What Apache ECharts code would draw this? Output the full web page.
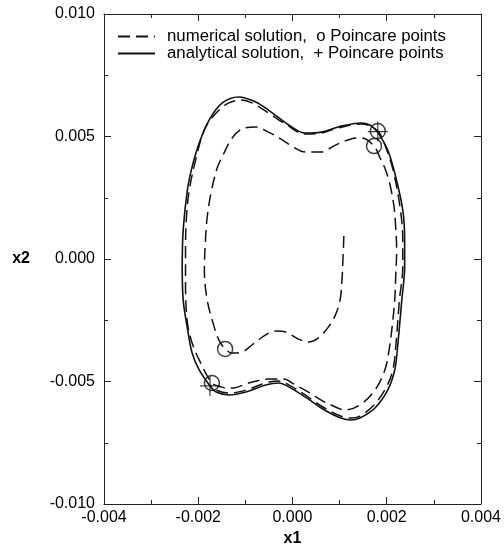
<!DOCTYPE html>
<html>
<head>
<meta charset="utf-8">
<script src="https://cdn.jsdelivr.net/npm/echarts@6/dist/echarts.min.js"></script>
<style>
  html, body { margin: 0; padding: 0; background: #fff; }
  #chart { width: 504px; height: 553px; }
</style>
</head>
<body>
<div id="chart"></div>
<script>
// numerical solution (dashed), spiralling outward from the inner start point
const numerical = [
  [0.00109, 0.00094], [0.00107, -0.00004], [0.00105, -0.00086], [0.00101, -0.00167],
  [0.00091, -0.00229], [0.00076, -0.00278], [0.00055, -0.00322], [0.00034, -0.00339],
  [0.00013, -0.00327], [-0.00015, -0.00298], [-0.00036, -0.00294], [-0.00057, -0.00310],
  [-0.00086, -0.00351], [-0.00107, -0.00380], [-0.00128, -0.00384], [-0.00143, -0.00367],
  [-0.00156, -0.00331], [-0.00166, -0.00278], [-0.00181, -0.00167], [-0.00187, -0.00045],
  [-0.00185, 0.00065], [-0.00181, 0.00171], [-0.00173, 0.00269], [-0.00160, 0.00370],
  [-0.00146, 0.00430], [-0.00128, 0.00494], [-0.00107, 0.00531], [-0.00078, 0.00539],
  [-0.00051, 0.00518], [-0.00025, 0.00490], [0.00002, 0.00457], [0.00027, 0.00437],
  [0.00061, 0.00437], [0.00091, 0.00465], [0.00124, 0.00490], [0.00147, 0.00494],
  [0.00173, 0.00461], [0.00185, 0.00416], [0.00196, 0.00371], [0.00206, 0.00310],
  [0.00215, 0.00220], [0.00219, 0.00131], [0.00221, 0.00037], [0.00219, -0.00073],
  [0.00217, -0.00167], [0.00213, -0.00249], [0.00206, -0.00359], [0.00196, -0.00453],
  [0.00175, -0.00535], [0.00143, -0.00596], [0.00112, -0.00616], [0.00082, -0.00596],
  [0.00061, -0.00576], [0.00034, -0.00543], [0.00006, -0.00514], [-0.00019, -0.00490],
  [-0.00051, -0.00490], [-0.00093, -0.00506], [-0.00128, -0.00527], [-0.00152, -0.00522],
  [-0.00171, -0.00506], [-0.00198, -0.00412], [-0.00213, -0.00343], [-0.00223, -0.00261],
  [-0.00227, -0.00098], [-0.00227, 0.00037], [-0.00225, 0.00171], [-0.00219, 0.00282],
  [-0.00204, 0.00416], [-0.00187, 0.00527], [-0.00162, 0.00596], [-0.00135, 0.00637],
  [-0.00109, 0.00649], [-0.00086, 0.00637], [-0.00051, 0.00596], [-0.00015, 0.00551],
  [0.00027, 0.00510], [0.00061, 0.00514], [0.00097, 0.00535], [0.00145, 0.00551],
  [0.00181, 0.00522], [0.00200, 0.00445], [0.00215, 0.00351], [0.00229, 0.00200],
  [0.00234, 0.00078], [0.00234, -0.00033], [0.00227, -0.00167], [0.00219, -0.00359],
  [0.00213, -0.00453], [0.00198, -0.00527], [0.00173, -0.00596], [0.00143, -0.00641],
  [0.00124, -0.00649], [0.00097, -0.00637], [0.00061, -0.00600], [0.00027, -0.00555],
  [-0.00008, -0.00514], [-0.00029, -0.00498], [-0.00057, -0.00506], [-0.00099, -0.00535],
  [-0.00135, -0.00547], [-0.00162, -0.00535], [-0.00175, -0.00514]
];

// analytical solution (solid), closed orbit
const analytical = [
  [0.00181, 0.00518], [0.00202, 0.00445], [0.00217, 0.00351], [0.00234, 0.00200],
  [0.00238, 0.00078], [0.00238, -0.00033], [0.00232, -0.00167], [0.00223, -0.00359],
  [0.00217, -0.00453], [0.00202, -0.00535], [0.00175, -0.00608], [0.00143, -0.00649],
  [0.00124, -0.00657], [0.00097, -0.00645], [0.00061, -0.00608], [0.00027, -0.00563],
  [-0.00008, -0.00522], [-0.00029, -0.00506], [-0.00057, -0.00514], [-0.00099, -0.00543],
  [-0.00135, -0.00555], [-0.00162, -0.00543], [-0.00175, -0.00518], [-0.00198, -0.00453],
  [-0.00213, -0.00384], [-0.00223, -0.00282], [-0.00232, -0.00167], [-0.00234, -0.00033],
  [-0.00232, 0.00118], [-0.00223, 0.00282], [-0.00213, 0.00376], [-0.00198, 0.00473],
  [-0.00177, 0.00567], [-0.00149, 0.00637], [-0.00114, 0.00661], [-0.00078, 0.00641],
  [-0.00051, 0.00608], [-0.00008, 0.00547], [0.00027, 0.00514], [0.00061, 0.00518],
  [0.00097, 0.00539], [0.00145, 0.00555], [0.00164, 0.00547], [0.00181, 0.00518]
];

const numericalPoincare = [
  [0.00181, 0.00522], [0.00173, 0.00461], [-0.00143, -0.00367], [-0.00171, -0.00506]
];
const analyticalPoincare = [
  [0.00181, 0.00520], [-0.00175, -0.00518]
];

const xTicks = { min: -0.004, max: 0.004, step: 0.002 };
const yTicks = { min: -0.010, max: 0.010, step: 0.005 };

const chart = echarts.init(document.getElementById("chart"));
const font = "Liberation Sans, Arial, Helvetica, sans-serif";

const frameAxis = {
  axisLine: { show: true, onZero: false, lineStyle: { color: "#222", width: 1 } },
  axisTick: { show: true, inside: true, length: 7, lineStyle: { color: "#222" } },
  minorTick: { show: true, splitNumber: 2, length: 4, lineStyle: { color: "#222" } },
  splitLine: { show: false },
};

chart.setOption({
  animation: false,
  backgroundColor: "#fff",
  textStyle: { fontFamily: font },
  grid: { left: 104, right: 20, top: 14, bottom: 49, containLabel: false },
  legend: {
    data: ["numerical solution,  o Poincare points", "analytical solution,  + Poincare points"],
    orient: "vertical",
    left: 112,
    top: 23,
    itemWidth: 37,
    itemHeight: 14,
    itemGap: 0,
    itemStyle: { opacity: 0 },
    textStyle: { fontSize: 16.8, lineHeight: 17, color: "#000", fontFamily: font, padding: [0, 0, 0, 7] },
  },
  xAxis: [
    Object.assign({}, frameAxis, {
      type: "value", position: "bottom",
      min: xTicks.min, max: xTicks.max, interval: xTicks.step,
      name: "x1", nameLocation: "middle", nameGap: 26,
      nameTextStyle: { fontSize: 16, color: "#000", fontWeight: "bold" },
      axisLabel: { fontSize: 16, color: "#000", margin: 6, formatter: (v) => v.toFixed(3) },
    }),
    Object.assign({}, frameAxis, {
      type: "value", position: "top",
      min: xTicks.min, max: xTicks.max, interval: xTicks.step,
      axisLabel: { show: false },
    }),
  ],
  yAxis: [
    Object.assign({}, frameAxis, {
      type: "value", position: "left",
      min: yTicks.min, max: yTicks.max, interval: yTicks.step,
      name: "x2", nameLocation: "middle", nameGap: 74, nameRotate: 0,
      nameTextStyle: { fontSize: 16, color: "#000", fontWeight: "bold" },
      axisLabel: { fontSize: 16, color: "#000", margin: 9, formatter: (v) => v.toFixed(3) },
    }),
    Object.assign({}, frameAxis, {
      type: "value", position: "right",
      min: yTicks.min, max: yTicks.max, interval: yTicks.step,
      axisLabel: { show: false },
    }),
  ],
  series: [
    {
      name: "numerical solution,  o Poincare points",
      type: "line",
      data: numerical,
      smooth: 0.35,
      symbol: "none",
      color: "#111",
      lineStyle: { color: "#111", width: 1.5, type: [12, 6] },
      z: 3,
    },
    {
      name: "analytical solution,  + Poincare points",
      type: "line",
      data: analytical,
      smooth: 0.35,
      symbol: "none",
      color: "#111",
      lineStyle: { color: "#111", width: 1.6, type: "solid" },
      z: 2,
    },
    {
      name: "numerical Poincare",
      type: "scatter",
      data: numericalPoincare,
      symbol: "circle",
      symbolSize: 15,
      itemStyle: { color: "rgba(0,0,0,0)", borderColor: "#111", borderWidth: 1.5 },
      z: 4,
    },
    {
      name: "analytical Poincare",
      type: "scatter",
      data: analyticalPoincare,
      symbol: "path://M-1,-0.06 L1,-0.06 L1,0.06 L-1,0.06 Z M-0.06,-1 L0.06,-1 L0.06,1 L-0.06,1 Z",
      symbolSize: 20,
      itemStyle: { color: "#111" },
      z: 4,
    },
  ],
});
</script>
</body>
</html>
